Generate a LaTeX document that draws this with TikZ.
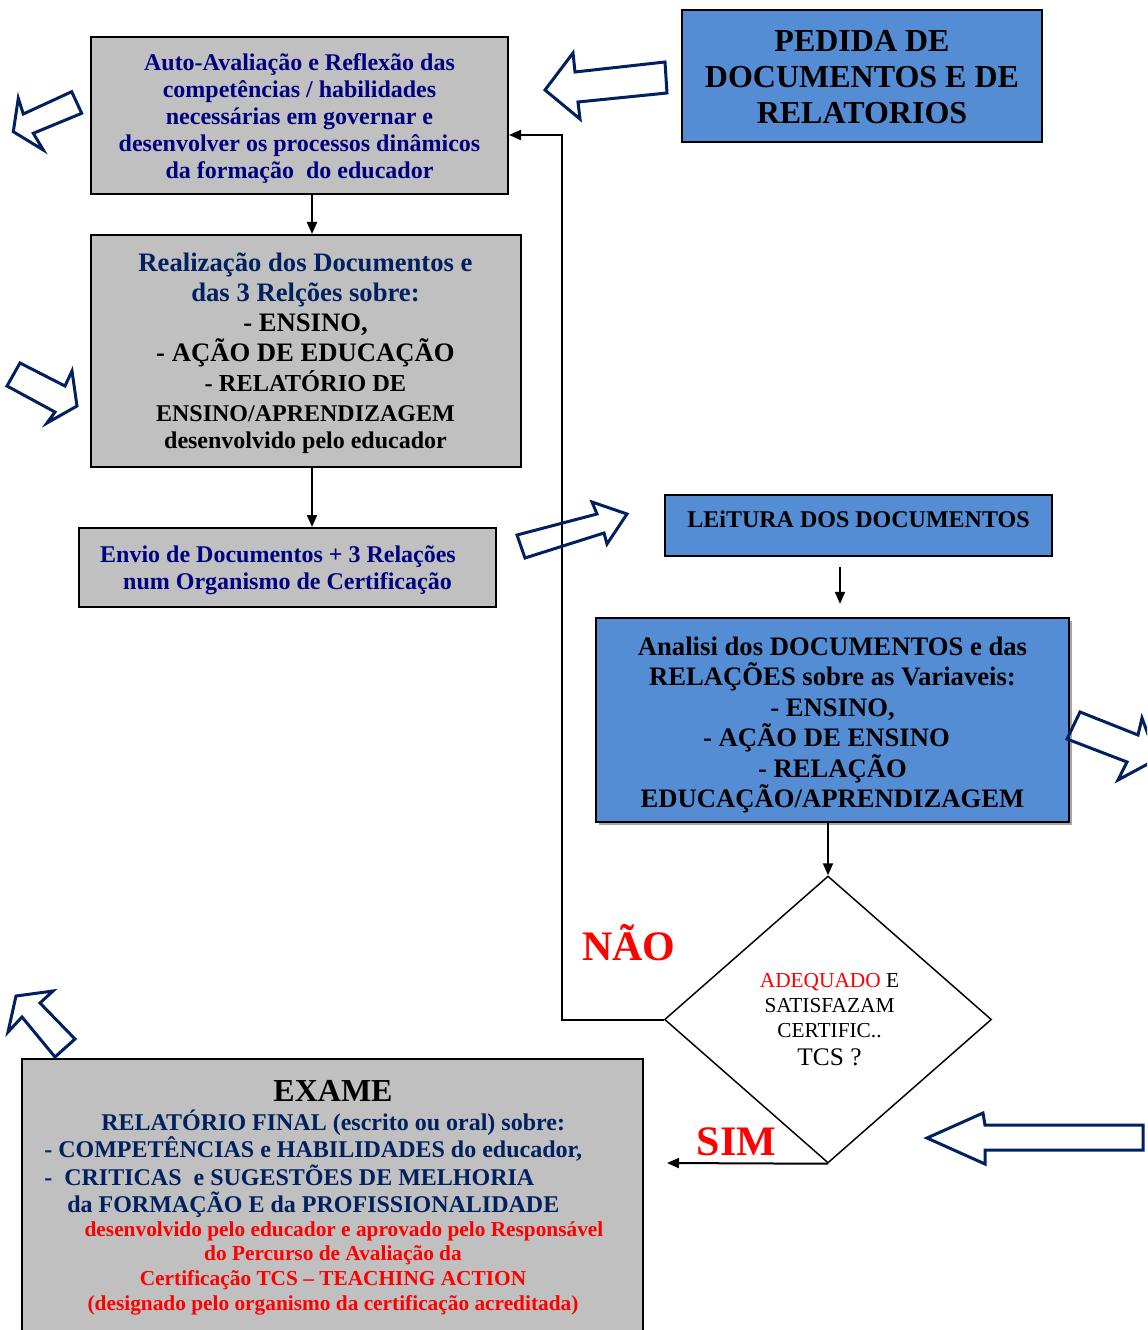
\documentclass[tikz,border=0pt]{standalone}
\usepackage{fontspec}
\setmainfont{Liberation Serif}
\usetikzlibrary{arrows.meta,shapes.geometric,shadows}
\definecolor{boxgray}{HTML}{C0C0C0}
\definecolor{boxblue}{HTML}{548DD4}
\definecolor{navyA}{HTML}{000080}
\definecolor{navyB}{HTML}{002060}
\definecolor{arrowblue}{HTML}{002060}
\definecolor{redtxt}{HTML}{FF0000}
\begin{document}
\begin{tikzpicture}[x=0.75pt,y=-0.75pt,
  graybox/.style={draw=black,line width=1.5pt,fill=boxgray,inner sep=0pt},
  bluebox/.style={draw=black,line width=1.8pt,fill=boxblue,inner sep=0pt},
  txt/.style={inner sep=0pt,align=center},
  conn/.style={draw=black,line width=1.5pt,-{Triangle[length=9pt,width=7.5pt]}},
  barrow/.style={draw=arrowblue,line width=2.25pt,line join=miter,fill=none},
]
\useasboundingbox (0,0) rectangle (1147,1330);
\clip (0,0) rectangle (1147,1330);

% boxes
\node[graybox,minimum width=312.75pt,minimum height=118pt] (b1) at (299.5,115.3) {};
\node[bluebox,minimum width=270pt,minimum height=99pt] (ped) at (862,76) {};
\node[graybox,minimum width=322.5pt,minimum height=174pt] (b2) at (306,351) {};
\node[graybox,minimum width=312.75pt,minimum height=59.25pt] (b3) at (287.5,567.5) {};
\node[bluebox,minimum width=290.25pt,minimum height=45.75pt] (lei) at (858.5,525.5) {};
\node[bluebox,minimum width=354.75pt,minimum height=153pt,
      drop shadow={shadow xshift=2.5pt,shadow yshift=-2.5pt,fill=gray!70,opacity=1}] (ana) at (832.5,720) {};
\node[draw=black,diamond,line width=1.1pt,minimum width=245.25pt,minimum height=215.25pt,inner sep=0pt] (dia) at (828,1019.5) {};
\node[graybox,minimum width=465.75pt,minimum height=214.5pt] (exa) at (332.5,1202) {};

% texts
\node[txt,text=navyA,font=\bfseries\fontsize{18}{20.3}\selectfont] (t1) at (299.5,118.5)
  {Auto-Avaliação e Reflexão das\\competências / habilidades\\necessárias em governar e\\desenvolver os processos dinâmicos\\da formação~ do educador};
\node[txt,font=\bfseries\fontsize{24}{27}\selectfont] (tped) at (862,77.5)
  {PEDIDA DE\\DOCUMENTOS E DE\\RELATORIOS};
\node[txt,font=\bfseries\fontsize{20}{22.5}\selectfont] (t2) at (305.5,353.5)
  {\textcolor{navyB}{Realização dos Documentos e}\\\textcolor{navyB}{das 3 Relções sobre:}\\- ENSINO,\\- AÇÃO DE EDUCAÇÃO\\{\fontsize{18.3}{20.3}\selectfont - RELATÓRIO DE}\\{\fontsize{18}{20.3}\selectfont ENSINO/APRENDIZAGEM}\\[-2.25pt]{\fontsize{18}{20.3}\selectfont desenvolvido pelo educador}};
\node[txt,text=navyA,font=\bfseries\fontsize{18}{20.25}\selectfont] (t3) at (283,570)
  {Envio de Documentos + 3 Relações\hspace*{7.5pt}\\\hspace*{6.75pt}num Organismo de Certificação};
\node[inner sep=0pt,anchor=base,font=\bfseries\fontsize{18}{20}\selectfont] (tlei) at (858.5,527.7)
  {LEiTURA DOS DOCUMENTOS};
\node[txt,font=\bfseries\fontsize{20}{22.8}\selectfont] (tana) at (832.5,725)
  {Analisi dos DOCUMENTOS e das\\RELAÇÕES sobre as Variaveis:\\- ENSINO,\\- AÇÃO DE ENSINO\rule{9pt}{0pt}\\- RELAÇÃO\\EDUCAÇÃO/APRENDIZAGEM};
\node[txt,font=\fontsize{16}{18.75}\selectfont] (tdia) at (829.5,1019.5)
  {\textcolor{redtxt}{ADEQUADO} E\\SATISFAZAM\\CERTIFIC..\\[2.25pt]{\fontsize{19}{21}\selectfont TCS ?}};
\node[inner sep=0pt,anchor=base,text=redtxt,font=\bfseries\fontsize{31.5}{36}\selectfont] (nao) at (629,960) {NÃO};
\node[inner sep=0pt,anchor=base,text=redtxt,font=\bfseries\fontsize{31.5}{36}\selectfont] (sim) at (736.5,1155) {SIM};

\node[inner sep=0pt,anchor=base,font=\bfseries\fontsize{24}{27}\selectfont] (extitle) at (333,1101) {EXAME};
\node[inner sep=0pt,anchor=base west,text=navyB,font=\bfseries\fontsize{18}{20.6}\selectfont] (ex1) at (101,1130)
  {RELATÓRIO FINAL (escrito ou oral) sobre:};
\node[inner sep=0pt,anchor=base west,text=navyB,font=\bfseries\fontsize{18}{20.6}\selectfont] (ex2) at (44,1157)
  {- COMPETÊNCIAS e HABILIDADES do educador,};
\node[inner sep=0pt,anchor=base west,text=navyB,font=\bfseries\fontsize{18}{20.6}\selectfont] (ex3) at (44,1185)
  {-~~CRITICAS~~e SUGESTÕES DE MELHORIA};
\node[inner sep=0pt,anchor=base west,text=navyB,font=\bfseries\fontsize{18}{20.6}\selectfont] (ex4) at (67,1212)
  {da FORMAÇÃO E da PROFISSIONALIDADE};
\node[txt,text=redtxt,font=\bfseries\fontsize{16}{18.5}\selectfont] (exred) at (333,1268)
  {\hspace*{16.5pt}desenvolvido pelo educador e aprovado pelo Responsável\\do Percurso de Avaliação da\\Certificação TCS – TEACHING ACTION\\(designado pelo organismo da certificação acreditada)};

% connectors
\draw[conn] (b1.south -| 312,0) -- (b2.north -| 312,0);
\draw[conn] (b2.south -| 312,0) -- (b3.north -| 312,0);
\draw[conn,shorten <=7.5pt,shorten >=9.75pt] (lei.south -| 840,0) -- (ana.north -| 840,0);
\draw[conn] (dia.north |- ana.south) -- (dia.north);
\coordinate (naoturn) at (562,135);
\draw[conn] (dia.west) -| (naoturn) -- (b1.east |- naoturn);
\coordinate (simend) at (667,1163);
\draw[conn] (dia.south) -- (simend);

% block arrows
\draw[barrow] (13.3,131.7) -- (18.3,98.3) -- (23.3,114) -- (71.7,91.7) -- (81.7,113.3) -- (33.3,133.3) -- (43.3,150) -- cycle;
\draw[barrow] (545,90) -- (573,53) -- (575,72) -- (665,62) -- (667,93) -- (578,102) -- (580,119) -- cycle;
\draw[barrow] (20,363) -- (65,386) -- (72,371) -- (77,406) -- (47,423) -- (55,412) -- (7,386) -- cycle;
\draw[barrow] (517,535) -- (597,514) -- (592,502) -- (627,514) -- (607,544) -- (604,533) -- (525,558) -- cycle;
\draw[barrow] (1080,712) -- (1138,735) -- (1142,718) -- (1157,759) -- (1118,780) -- (1127,762) -- (1067,739) -- cycle;
\draw[barrow] (16,996) -- (53,991) -- (40,1003) -- (75,1039) -- (55,1057) -- (22,1017) -- (8,1032) -- cycle;
\draw[barrow] (927,1138) -- (983,1113) -- (985,1125) -- (1143,1125) -- (1143,1150) -- (985,1150) -- (985,1164) -- cycle;
\end{tikzpicture}
\end{document}
